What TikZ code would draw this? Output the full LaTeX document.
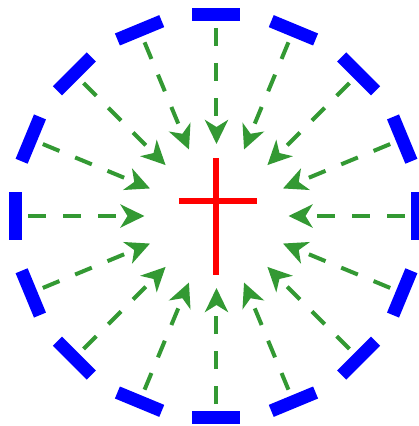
\documentclass[tikz,border=0pt]{standalone}
\usetikzlibrary{arrows.meta}
\definecolor{bargreen}{RGB}{51,153,51}
\tikzset{
  bar/.style={fill=blue, draw=none, inner sep=0pt, minimum width=13pt, minimum height=48pt},
  ray/.style={draw=bargreen, line width=4pt, dash pattern=on 18pt off 17pt,
              -{Stealth[length=24pt, width=23pt, inset=7pt]}},
  crossline/.style={draw=red, line width=6pt}
}
\begin{document}
\begin{tikzpicture}[x=1pt,y=1pt]
\useasboundingbox (-216.5,-210) rectangle (202.5,216);
\foreach \i in {0,...,15}{
  \pgfmathsetmacro{\a}{\i*22.5}
  \node[bar, rotate=\a] (b\i) at (\a:201) {};
  \coordinate (s\i) at (\a:188);
  \coordinate (t\i) at (\a:72);
  \draw[ray] (s\i) -- (t\i);
}
\coordinate (hl) at (-37.5,15);
\coordinate (hr) at (40.5,15);
\coordinate (vt) at (-0.5,58);
\coordinate (vb) at (-0.5,-59);
\draw[crossline] (hl) -- (hr);
\draw[crossline] (vt) -- (vb);
\end{tikzpicture}
\end{document}
